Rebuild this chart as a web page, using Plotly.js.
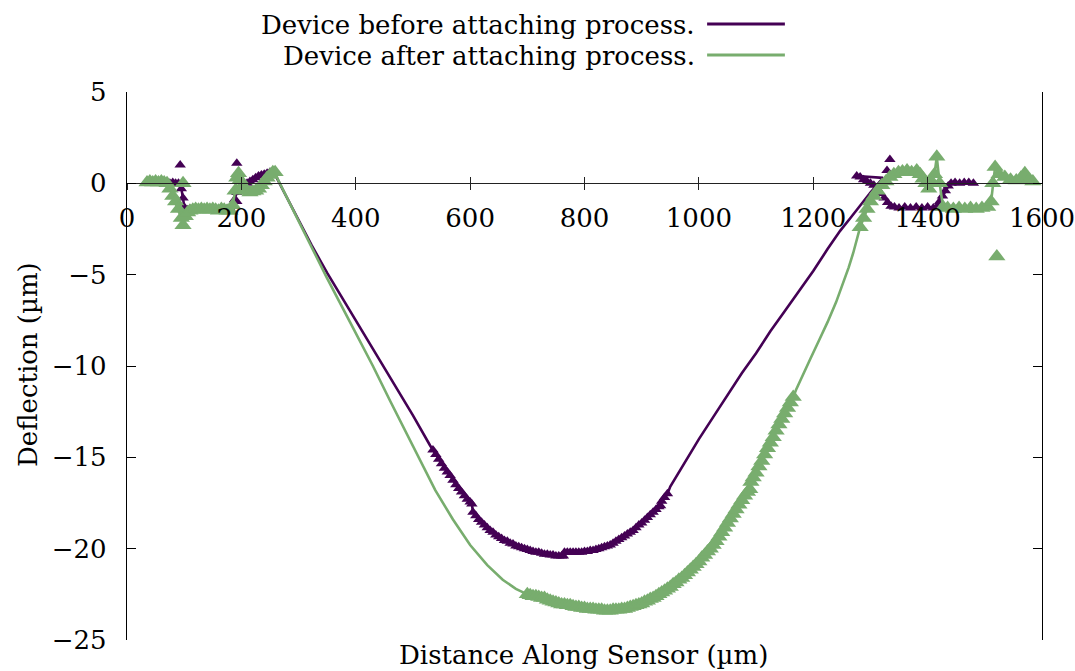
<!DOCTYPE html>
<html>
<head>
<meta charset="utf-8">
<script src="https://cdn.plot.ly/plotly-3.0.1.min.js"></script>
<style>html,body{margin:0;padding:0;background:#fff;}#chart{width:1075px;height:671px;}</style>
</head>
<body>
<div id="chart"></div>
<script>
// ---- Data: [x (µm along sensor), deflection (µm)] ----
const seriesNames = ["Device before attaching process.", "Device after attaching process."];
const xTicks = [0, 200, 400, 600, 800, 1000, 1200, 1400, 1600];
const yTicks = [-25, -20, -15, -10, -5, 0, 5];

// Before attaching: measured points, left edge
const beforeLeft = [[40,0.05],[45,0.0],[50,0.05],[55,0.0],[60,0.05],[65,0.0],[70,0.05],[75,0.0],[80,0.05],[85,0.0],[90,0.0],[95,-0.3],[98,-0.8],[100,-1.3],[103,-1.5],[106,-1.45],[110,-1.4],[115,-1.45],[120,-1.4],[125,-1.45],[130,-1.4],[135,-1.45],[140,-1.4],[145,-1.45],[150,-1.4],[155,-1.45],[160,-1.4],[165,-1.45],[170,-1.4],[175,-1.4],[180,-1.35],[185,-1.2],[188,-0.9],[192,-0.5],[196,-0.3],[200,-0.2],[205,-0.1],[210,0.0],[215,0.1],[220,0.2],[225,0.3],[230,0.4],[235,0.45],[240,0.5],[245,0.55],[250,0.6],[255,0.55]];
// Before attaching: line through the unmeasured descent
const beforeDesc = [[262,0.3],[270,-0.2],[280,-0.8],[295,-1.7],[310,-2.6],[323,-3.4],[350,-4.9],[400,-7.5],[448,-10.0],[500,-12.7],[530,-14.35]];
// Before attaching: measured points, trough
const beforeTrough = [[535,-14.6],[540,-14.85],[545,-15.1],[550,-15.35],[555,-15.6],[560,-15.8],[565,-16.0],[570,-16.25],[575,-16.5],[580,-16.7],[585,-16.9],[590,-17.1],[595,-17.3],[600,-17.45],[603,-17.55],[605,-18.0],[610,-18.2],[615,-18.4],[620,-18.55],[625,-18.7],[630,-18.85],[635,-19.0],[640,-19.1],[645,-19.25],[650,-19.35],[655,-19.45],[660,-19.55],[665,-19.6],[670,-19.7],[675,-19.75],[680,-19.85],[685,-19.9],[690,-19.95],[695,-20.0],[700,-20.05],[705,-20.1],[710,-20.15],[715,-20.2],[720,-20.2],[725,-20.25],[730,-20.3],[735,-20.3],[740,-20.35],[745,-20.35],[750,-20.4],[755,-20.4],[760,-20.4],[763,-20.4],[765,-20.2],[770,-20.2],[775,-20.2],[780,-20.2],[785,-20.2],[790,-20.2],[795,-20.2],[800,-20.15],[805,-20.15],[810,-20.1],[815,-20.1],[820,-20.05],[825,-20.0],[830,-19.95],[835,-19.9],[840,-19.85],[845,-19.8],[850,-19.7],[855,-19.6],[860,-19.5],[865,-19.4],[870,-19.3],[875,-19.2],[880,-19.1],[885,-19.0],[890,-18.85],[895,-18.7],[900,-18.6],[905,-18.45],[910,-18.3],[915,-18.15],[920,-18.0],[925,-17.85],[930,-17.7],[933,-17.65],[935,-17.4],[940,-17.2],[945,-17.0]];
// Before attaching: line through the unmeasured ascent
const beforeAsc = [[950,-16.6],[975,-15.3],[1000,-14.0],[1025,-12.8],[1050,-11.6],[1075,-10.4],[1100,-9.3],[1125,-8.1],[1150,-7.0],[1175,-5.9],[1200,-4.8],[1225,-3.6],[1247,-2.6],[1265,-1.9],[1282,-1.2],[1300,-0.5],[1322,0.3]];
// Before attaching: measured points, right edge
const beforeRight = [[1276,0.4],[1282,0.35],[1288,0.2],[1294,0.1],[1300,0.0],[1306,-0.1],[1312,-0.3],[1318,-0.55],[1324,-0.8],[1330,-1.05],[1336,-1.25],[1342,-1.3],[1350,-1.35],[1360,-1.3],[1370,-1.35],[1380,-1.3],[1390,-1.35],[1400,-1.3],[1410,-1.35],[1416,-1.3],[1421,-1.0],[1426,-0.7],[1431,-0.4],[1436,-0.15],[1441,0.0],[1448,0.05],[1456,0.0],[1464,0.05],[1472,0.05],[1480,0.0]];
// Before attaching: isolated points
const beforeOutliers = [[93,1.0],[192,1.1],[192,-1.0],[1329,0.7],[1334,1.3]];

// After attaching: measured points, left edge
const afterLeft = [[35,0.05],[40,0.1],[45,0.05],[50,0.1],[55,0.05],[60,0.1],[65,0.05],[70,0.0],[75,-0.3],[80,-0.7],[85,-1.0],[90,-1.4],[95,-1.9],[98,-2.3],[102,-1.8],[106,-1.6],[110,-1.5],[115,-1.45],[120,-1.4],[125,-1.45],[130,-1.4],[135,-1.45],[140,-1.4],[145,-1.45],[150,-1.4],[155,-1.45],[160,-1.5],[165,-1.4],[170,-1.45],[175,-1.5],[180,-1.5],[185,-1.2],[189,-0.4],[192,0.3],[195,0.55],[198,0.2],[202,-0.1],[206,-0.3],[210,-0.4],[215,-0.5],[220,-0.45],[225,-0.4],[230,-0.3],[235,-0.1],[240,0.1],[245,0.3],[250,0.45],[255,0.6],[259,0.6]];
// After attaching: line through the unmeasured descent
const afterDesc = [[264,0.2],[275,-0.5],[290,-1.4],[305,-2.4],[323,-3.5],[350,-5.2],[390,-7.6],[430,-10.0],[460,-11.9],[500,-14.4],[539,-16.8],[570,-18.4],[600,-19.8],[630,-20.9],[657,-21.7],[680,-22.2],[695,-22.45]];
// After attaching: measured points, trough
const afterTrough = [[700,-22.5],[705,-22.55],[710,-22.6],[715,-22.6],[720,-22.65],[725,-22.7],[730,-22.7],[735,-22.8],[740,-22.85],[745,-22.9],[750,-22.95],[755,-23.0],[760,-23.05],[765,-23.05],[770,-23.1],[775,-23.1],[780,-23.15],[785,-23.2],[790,-23.2],[795,-23.25],[800,-23.25],[805,-23.3],[810,-23.3],[815,-23.3],[820,-23.35],[825,-23.35],[830,-23.35],[835,-23.4],[840,-23.4],[845,-23.4],[850,-23.35],[855,-23.35],[860,-23.35],[865,-23.3],[870,-23.3],[875,-23.25],[880,-23.2],[885,-23.15],[890,-23.1],[895,-23.05],[900,-23.0],[905,-22.9],[910,-22.85],[915,-22.75],[920,-22.7],[925,-22.6],[930,-22.5],[935,-22.4],[940,-22.3],[945,-22.2],[950,-22.1],[955,-21.95],[960,-21.85],[965,-21.7],[970,-21.6],[975,-21.45],[980,-21.3],[985,-21.15],[990,-21.0],[995,-20.85],[1000,-20.7],[1005,-20.5],[1010,-20.35],[1015,-20.15],[1020,-20.0],[1025,-19.8],[1030,-19.6],[1035,-19.35],[1040,-19.1],[1045,-18.85],[1050,-18.6],[1055,-18.35],[1060,-18.1],[1065,-17.85],[1070,-17.6],[1075,-17.35],[1080,-17.1],[1085,-16.9],[1089,-16.75],[1091,-16.35],[1095,-16.1],[1100,-15.85],[1105,-15.5],[1110,-15.2],[1115,-14.85],[1120,-14.5],[1125,-14.2],[1130,-13.9],[1135,-13.55],[1140,-13.2],[1145,-12.9],[1150,-12.6],[1155,-12.3],[1160,-12.0],[1165,-11.7]];
// After attaching: line through the unmeasured ascent
const afterAsc = [[1170,-11.3],[1180,-10.6],[1195,-9.6],[1210,-8.6],[1225,-7.6],[1240,-6.5],[1252,-5.5],[1262,-4.6],[1270,-3.8],[1278,-2.9]];
// After attaching: measured points, right edge
const afterRight = [[1282,-2.4],[1288,-1.9],[1294,-1.4],[1300,-1.0],[1306,-0.7],[1312,-0.4],[1320,-0.1],[1327,0.1],[1334,0.35],[1341,0.5],[1349,0.6],[1356,0.65],[1364,0.7],[1372,0.6],[1381,0.7],[1387,0.5],[1392,0.25],[1397,0.0],[1402,-0.3],[1407,0.1],[1412,0.5],[1416,1.45],[1421,0.0],[1427,-1.3],[1435,-1.35],[1445,-1.4],[1455,-1.35],[1465,-1.4],[1475,-1.35],[1485,-1.4],[1495,-1.35],[1505,-1.3],[1511,-1.0],[1514,0.0],[1518,0.9],[1525,0.5],[1535,0.35],[1545,0.2],[1555,0.15],[1563,0.3],[1570,0.55],[1577,0.2],[1584,0.1]];
// After attaching: isolated points
const afterOutliers = [[98,0.0],[1521,-4.0]];

// ---- Styles ----
const PURPLE = "#440154";
const GREEN = "#78ad6e";
const FONT = "DejaVu Serif, Liberation Serif, serif";
const FS = 26;

const xs = (...parts) => [].concat(...parts).map(p => p[0]);
const ys = (...parts) => [].concat(...parts).map(p => p[1]);

const traces = [
  {x: xs(beforeLeft, beforeDesc, beforeTrough, beforeAsc, beforeRight),
   y: ys(beforeLeft, beforeDesc, beforeTrough, beforeAsc, beforeRight),
   mode: "lines", line: {color: PURPLE, width: 2.6}, name: seriesNames[0], showlegend: false},
  {x: xs(beforeLeft, beforeTrough, beforeRight, beforeOutliers),
   y: ys(beforeLeft, beforeTrough, beforeRight, beforeOutliers),
   mode: "markers", marker: {symbol: "triangle-up", size: 10, color: PURPLE, line: {width: 0}}, showlegend: false},
  {x: xs(afterLeft, afterDesc, afterTrough, afterAsc, afterRight),
   y: ys(afterLeft, afterDesc, afterTrough, afterAsc, afterRight),
   mode: "lines", line: {color: GREEN, width: 2.6}, name: seriesNames[1], showlegend: false},
  {x: xs(afterLeft, afterTrough, afterRight, afterOutliers),
   y: ys(afterLeft, afterTrough, afterRight, afterOutliers),
   mode: "markers", marker: {symbol: "triangle-up", size: 15, color: GREEN, line: {width: 0}}, showlegend: false},
  {x: [], y: [], xaxis: "x2", yaxis: "y", showlegend: false, hoverinfo: "skip"}
];

const yMin = yTicks[0], yMax = yTicks[yTicks.length - 1];
const zeroPos = (0 - yMin) / (yMax - yMin);

const layout = {
  width: 1075, height: 671,
  paper_bgcolor: "#fff", plot_bgcolor: "#fff",
  margin: {l: 127, r: 33, t: 92, b: 31},
  font: {family: FONT, size: FS, color: "#000"},
  showlegend: false,
  xaxis: {
    range: [xTicks[0], xTicks[xTicks.length - 1]], tickvals: xTicks,
    anchor: "free", position: zeroPos,
    showline: true, linecolor: "#222", linewidth: 1,
    ticks: "outside", ticklen: 6, tickwidth: 1, tickcolor: "#222",
    showgrid: false, zeroline: false, ticklabelstandoff: 5,
    ticklabeloverflow: "allow",
    tickfont: {family: FONT, size: FS, color: "#000"}
  },
  xaxis2: {
    overlaying: "x", matches: "x", anchor: "free", position: zeroPos,
    range: [xTicks[0], xTicks[xTicks.length - 1]], tickvals: xTicks,
    showline: false, ticks: "inside", ticklen: 6, tickwidth: 1, tickcolor: "#222",
    showticklabels: false, showgrid: false, zeroline: false
  },
  yaxis: {
    range: [yMin, yMax], tickvals: yTicks,
    showline: true, linecolor: "#000", linewidth: 1.3, mirror: "ticks",
    ticks: "inside", ticklen: 9, tickwidth: 1, tickcolor: "#000",
    showgrid: false, zeroline: false, ticklabelstandoff: 14,
    ticklabeloverflow: "allow",
    tickfont: {family: FONT, size: FS, color: "#000"}
  },
  annotations: [
    {text: seriesNames[0], xref: "paper", yref: "paper", x: 0.623, y: 1.122, xanchor: "right", yanchor: "middle", showarrow: false, font: {family: FONT, size: FS, color: "#000"}},
    {text: seriesNames[1], xref: "paper", yref: "paper", x: 0.623, y: 1.066, xanchor: "right", yanchor: "middle", showarrow: false, font: {family: FONT, size: FS, color: "#000"}},
    {text: "Distance Along Sensor (µm)", xref: "paper", yref: "paper", x: 0.499, y: -0.027, xanchor: "center", yanchor: "middle", showarrow: false, font: {family: FONT, size: FS, color: "#000"}},
    {text: "Deflection (µm)", xref: "paper", yref: "paper", x: -0.108, y: 0.502, xanchor: "center", yanchor: "middle", textangle: -90, showarrow: false, font: {family: FONT, size: FS, color: "#000"}}
  ],
  shapes: [
    {type: "line", xref: "paper", yref: "paper", x0: 0.634, x1: 0.719, y0: 1.124, y1: 1.124, line: {color: PURPLE, width: 3}},
    {type: "line", xref: "paper", yref: "paper", x0: 0.634, x1: 0.719, y0: 1.0675, y1: 1.0675, line: {color: GREEN, width: 3}}
  ]
};

Plotly.newPlot("chart", traces, layout, {staticPlot: true, displayModeBar: false});
</script>
</body>
</html>
